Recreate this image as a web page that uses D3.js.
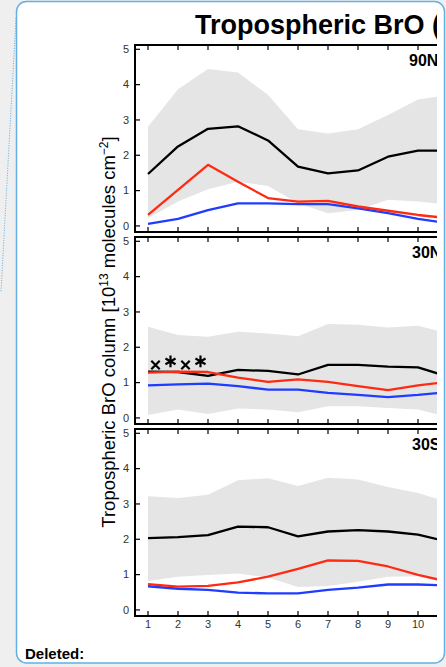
<!DOCTYPE html>
<html>
<head>
<meta charset="utf-8">
<script src="https://cdn.jsdelivr.net/npm/d3@7"></script>
<style>
  body { margin: 0; background: #efefef; }
  svg { display: block; font-family: "Liberation Sans", Arial, sans-serif; }
</style>
</head>
<body>
<svg id="chart" width="446" height="667"></svg>
<script>
// Data, months 1..11 (12 is cut off by the crop)
const months = [1, 2, 3, 4, 5, 6, 7, 8, 9, 10, 11];
const xTicks = [1, 2, 3, 4, 5, 6, 7, 8, 9, 10, 11, 12];
const yTicks = [0, 1, 2, 3, 4, 5];
const regions = ["90N-30N", "30N-30S", "30S-90S"];

const bandHi90N = [2.81, 3.87, 4.44, 4.34, 3.71, 2.74, 2.62, 2.74, 3.14, 3.58, 3.70];
const bandLo90N = [0.22, 0.69, 1.04, 1.25, 1.13, 0.64, 0.36, 0.45, 0.74, 0.69, 0.60];
const black90N  = [1.47, 2.25, 2.75, 2.82, 2.42, 1.68, 1.49, 1.57, 1.96, 2.13, 2.13];
const red90N    = [0.31, 1.02, 1.73, 1.25, 0.79, 0.69, 0.71, 0.55, 0.43, 0.31, 0.22];
const blue90N   = [0.06, 0.20, 0.45, 0.64, 0.64, 0.62, 0.62, 0.50, 0.36, 0.20, 0.08];

const bandHi30N = [2.58, 2.35, 2.30, 2.44, 2.39, 2.31, 2.66, 2.64, 2.56, 2.61, 2.40];
const bandLo30N = [0.08, 0.24, 0.11, 0.27, 0.24, 0.16, 0.33, 0.33, 0.28, 0.24, 0.03];
const black30N  = [1.31, 1.30, 1.19, 1.36, 1.33, 1.23, 1.50, 1.50, 1.45, 1.43, 1.17];
const red30N    = [1.28, 1.31, 1.30, 1.14, 1.02, 1.09, 1.02, 0.90, 0.79, 0.92, 1.02];
const blue30N   = [0.92, 0.95, 0.97, 0.90, 0.80, 0.80, 0.71, 0.65, 0.59, 0.65, 0.73];

const bandHi30S = [3.22, 3.17, 3.26, 3.67, 3.73, 3.51, 3.74, 3.69, 3.48, 3.31, 3.05];
const bandLo30S = [0.82, 0.94, 0.99, 1.03, 0.92, 0.65, 0.68, 0.80, 0.94, 0.95, 0.85];
const black30S  = [2.03, 2.06, 2.12, 2.36, 2.34, 2.08, 2.22, 2.26, 2.22, 2.13, 1.93];
const red30S    = [0.73, 0.66, 0.68, 0.78, 0.94, 1.16, 1.40, 1.39, 1.23, 0.99, 0.80];
const blue30S   = [0.67, 0.60, 0.57, 0.49, 0.47, 0.47, 0.57, 0.63, 0.72, 0.72, 0.69];

// extra observation markers in the 30N panel
const markerMonths = [1.25, 1.75, 2.25, 2.75];
const markerValues = [1.50, 1.60, 1.50, 1.60];
const markerTypes  = ["x", "asterisk", "x", "asterisk"];

const panels = [
  {label: regions[0], hi: bandHi90N, lo: bandLo90N, black: black90N, red: red90N, blue: blue90N},
  {label: regions[1], hi: bandHi30N, lo: bandLo30N, black: black30N, red: red30N, blue: blue30N, markers: true},
  {label: regions[2], hi: bandHi30S, lo: bandLo30S, black: black30S, red: red30S, blue: blue30S}
];

// Layout
const left = 135, cropRight = 437;
const panelTops = [44, 236, 428], panelH = 189;

const svg = d3.select("#chart");

// comment connector (dotted) on the left
svg.append("line")
    .attr("x1", 16).attr("y1", 18).attr("x2", 1).attr("y2", 292)
    .attr("stroke", "#5aaee0").attr("stroke-width", 1)
    .attr("stroke-dasharray", "1,1.5");

// balloon frame
svg.append("rect")
    .attr("x", 16.5).attr("y", 1.5)
    .attr("width", 428).attr("height", 661.5)
    .attr("rx", 10)
    .attr("fill", "#fff")
    .attr("stroke", "#62b0e4").attr("stroke-width", 1.5);

svg.append("text")
    .attr("x", 25).attr("y", 659)
    .style("font-size", "15px").style("font-weight", "bold")
    .text("Deleted:");

const defs = svg.append("defs");
defs.append("clipPath").attr("id", "crop")
  .append("rect").attr("x", 0).attr("y", 0).attr("width", cropRight).attr("height", 667);

const g = svg.append("g").attr("clip-path", "url(#crop)");

g.append("text")
    .attr("x", 195).attr("y", 34)
    .style("font-size", "27px").style("font-weight", "bold")
    .text("Tropospheric BrO (GEOS-Chem)");

const x = d3.scaleLinear().domain([1, 10]).range([148, 418]);

panels.forEach((p, k) => {
  const top = panelTops[k], bottom = top + panelH;
  const y = d3.scaleLinear().domain([-0.2, 5.15]).range([bottom, top]);
  const pg = g.append("g");

  defs.append("clipPath").attr("id", "panel" + k)
    .append("rect").attr("x", left).attr("y", top)
    .attr("width", cropRight - left).attr("height", panelH);

  const inner = pg.append("g").attr("clip-path", `url(#panel${k})`);

  const area = d3.area()
      .x((d, i) => x(months[i]))
      .y0((d, i) => y(p.lo[i]))
      .y1(d => y(d));

  inner.append("path")
      .datum(p.hi)
      .attr("d", area)
      .attr("fill", "#e5e5e5");

  const line = d3.line()
      .x((d, i) => x(months[i]))
      .y(d => y(d));

  [["black", "#000"], ["blue", "#1f3cff"], ["red", "#ff2a12"]].forEach(([key, col]) => {
    inner.append("path")
        .datum(p[key])
        .attr("d", line)
        .attr("fill", "none")
        .attr("stroke", col)
        .attr("stroke-width", 2.3)
        .attr("stroke-linejoin", "round");
  });

  if (p.markers) {
    inner.selectAll(".marker")
      .data(markerMonths)
      .enter().append("path")
        .attr("class", "marker")
        .attr("transform", (d, i) => `translate(${x(d)},${y(markerValues[i])})`)
        .attr("d", (d, i) => markerTypes[i] === "x"
            ? d3.symbol(d3.symbolX, 48)()
            : d3.symbol(d3.symbolAsterisk, 95)())
        .attr("fill", "none")
        .attr("stroke", "#000")
        .attr("stroke-width", 2.2);
  }

  // panel label
  pg.append("text")
      .attr("x", k === 0 ? 409 : 412)
      .attr("y", top + 22)
      .style("font-size", "16px").style("font-weight", "bold")
      .text(p.label);

  // frame lines
  pg.append("line").attr("x1", left - 1).attr("x2", cropRight)
      .attr("y1", top + 1).attr("y2", top + 1)
      .attr("stroke", "#000").attr("stroke-width", 2);
  pg.append("line").attr("x1", left - 1).attr("x2", cropRight)
      .attr("y1", bottom - 1).attr("y2", bottom - 1)
      .attr("stroke", "#000").attr("stroke-width", 2);
  pg.append("line").attr("x1", left).attr("x2", left)
      .attr("y1", top).attr("y2", bottom)
      .attr("stroke", "#000").attr("stroke-width", 2);

  // y ticks + labels
  const yAxis = pg.selectAll(".ytick")
    .data(yTicks)
    .enter().append("g")
      .attr("transform", d => `translate(0,${y(d)})`);
  yAxis.append("line").attr("x1", left).attr("x2", left + 5)
      .attr("stroke", "#000").attr("stroke-width", 1.2);
  yAxis.append("text")
      .attr("x", 129).attr("dy", "0.35em")
      .attr("text-anchor", "end")
      .style("font-size", "11px").attr("fill", "#333")
      .text(d => d);

  // x ticks (top and bottom, inward)
  pg.selectAll(".xt")
    .data(xTicks)
    .enter().append("line")
      .attr("x1", d => x(d)).attr("x2", d => x(d))
      .attr("y1", top + 1).attr("y2", top + 6)
      .attr("stroke", "#000").attr("stroke-width", 1.2);
  pg.selectAll(".xb")
    .data(xTicks)
    .enter().append("line")
      .attr("x1", d => x(d)).attr("x2", d => x(d))
      .attr("y1", bottom - 1).attr("y2", bottom - 6)
      .attr("stroke", "#000").attr("stroke-width", 1.2);

  if (k === panels.length - 1) {
    pg.selectAll(".xl")
      .data(xTicks)
      .enter().append("text")
        .attr("x", d => x(d)).attr("y", bottom + 11)
        .attr("text-anchor", "middle")
        .style("font-size", "11px").attr("fill", "#333")
        .text(d => d);
  }
});

// y axis title
const yt = g.append("text")
    .attr("transform", "translate(115,332) rotate(-90)")
    .attr("text-anchor", "middle")
    .style("font-size", "18.5px");
yt.append("tspan").text("Tropospheric BrO column [10");
yt.append("tspan").attr("dy", -7).style("font-size", "12px").text("13");
yt.append("tspan").attr("dy", 7).text(" molecules cm");
yt.append("tspan").attr("dy", -7).style("font-size", "12px").text("\u22122");
yt.append("tspan").attr("dy", 7).text("]");
</script>
</body>
</html>
